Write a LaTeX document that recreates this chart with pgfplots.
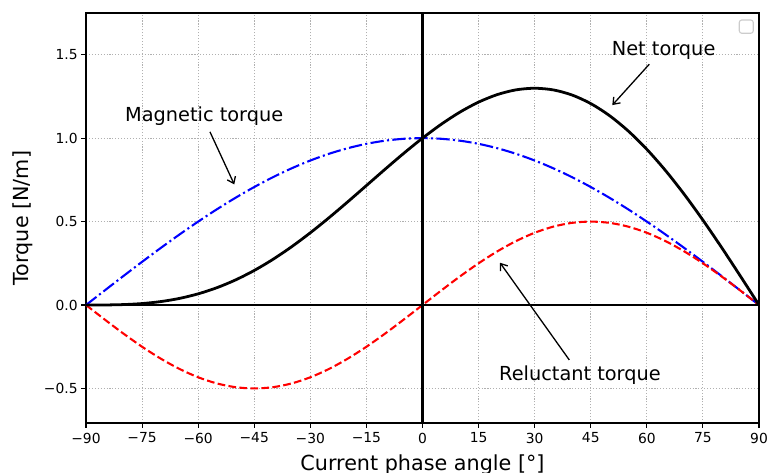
\documentclass[border=0pt]{standalone}
\usepackage{fontspec}
\setmainfont{DejaVu Sans}
\usepackage{pgfplots}
\pgfplotsset{compat=1.18}
\usepackage{pgfplotstable}
\usetikzlibrary{arrows.meta}

% Torque components versus current phase angle (degrees)
\pgfplotstableread{
angle magnetic reluctant net
-90 0.00000  0.00000 0.00000
-85 0.08716 -0.08682 0.00034
-80 0.17365 -0.17101 0.00264
-75 0.25882 -0.25000 0.00882
-70 0.34202 -0.32139 0.02063
-65 0.42262 -0.38302 0.03960
-60 0.50000 -0.43301 0.06699
-55 0.57358 -0.46985 0.10373
-50 0.64279 -0.49240 0.15039
-45 0.70711 -0.50000 0.20711
-40 0.76604 -0.49240 0.27364
-35 0.81915 -0.46985 0.34930
-30 0.86603 -0.43301 0.43302
-25 0.90631 -0.38302 0.52329
-20 0.93969 -0.32139 0.61830
-15 0.96593 -0.25000 0.71593
-10 0.98481 -0.17101 0.81380
-5  0.99619 -0.08682 0.90937
0   1.00000  0.00000 1.00000
5   0.99619  0.08682 1.08301
10  0.98481  0.17101 1.15582
15  0.96593  0.25000 1.21593
20  0.93969  0.32139 1.26108
25  0.90631  0.38302 1.28933
30  0.86603  0.43301 1.29904
35  0.81915  0.46985 1.28900
40  0.76604  0.49240 1.25844
45  0.70711  0.50000 1.20711
50  0.64279  0.49240 1.13519
55  0.57358  0.46985 1.04343
60  0.50000  0.43301 0.93301
65  0.42262  0.38302 0.80564
70  0.34202  0.32139 0.66341
75  0.25882  0.25000 0.50882
80  0.17365  0.17101 0.34466
85  0.08716  0.08682 0.17398
90  0.00000  0.00000 0.00000
}\torquedata

\definecolor{gridgray}{RGB}{176,176,176}
\definecolor{legendedge}{RGB}{204,204,204}

\begin{document}
\begin{tikzpicture}
\begin{axis}[
  at={(0,0)}, anchor=south west,
  scale only axis, width=673bp, height=410bp,
  xmin=-90, xmax=90, ymin=-0.707, ymax=1.75,
  xtick={-90,-75,...,90},
  xticklabels={−90,−75,−60,−45,−30,−15,0,15,30,45,60,75,90},
  ytick={-0.5,0,0.5,1,1.5},
  yticklabels={−0.5,0.0,0.5,1.0,1.5},
  tick pos=left, tick align=outside,
  major tick length=4.86bp,
  every tick/.style={black, line width=1.1bp},
  axis line style={black, line width=1.1bp},
  grid=major,
  grid style={gridgray, line width=1.1bp, dash pattern=on 1.1bp off 1.83bp},
  ticklabel style={font=\fontsize{13.9}{16}\selectfont},
  xticklabel style={yshift=-1.5bp},
  xlabel={Current phase angle [°]},
  ylabel={Torque [N/m]},
  label style={font=\fontsize{20.8}{24}\selectfont},
  xlabel style={at={(axis description cs:0.5,-0.1150)}, anchor=base},
  ylabel style={at={(axis description cs:-0.0854,0.5)}, anchor=base},
]
\addplot[blue, smooth, line width=2.08bp, dash pattern=on 13.3bp off 3.33bp on 2.08bp off 3.33bp]
  table[x=angle, y=magnetic] {\torquedata};
\addplot[red, smooth, line width=2.08bp, dash pattern=on 7.7bp off 3.33bp]
  table[x=angle, y=reluctant] {\torquedata};
\addplot[black, smooth, line width=2.78bp]
  table[x=angle, y=net] {\torquedata};
% reference lines through the origin
\addplot[black, line width=2.5bp] coordinates {(-90,0) (90,0)};
\addplot[black, line width=2.5bp] coordinates {(0,-0.707) (0,1.75)};

% annotations
\node[anchor=base west, inner sep=0pt, font=\fontsize{19.4}{22}\selectfont]
  at (axis cs:50.6,1.497) {Net torque};
\draw[line width=1.3bp, -{Straight Barb[length=6bp, width=9bp]}]
  (axis cs:60.66,1.443) -- (axis cs:50.77,1.198);
\node[anchor=base west, inner sep=0pt, font=\fontsize{19.4}{22}\selectfont]
  at (axis cs:-79.57,1.0976) {Magnetic torque};
\draw[line width=1.3bp, -{Straight Barb[length=6bp, width=9bp]}]
  (axis cs:-56.84,1.0377) -- (axis cs:-50.34,0.7228);
\node[anchor=base west, inner sep=0pt, font=\fontsize{19.4}{22}\selectfont]
  at (axis cs:20.46,-0.4533) {Reluctant torque};
\draw[line width=1.3bp, -{Straight Barb[length=6bp, width=9bp]}]
  (axis cs:39.26,-0.329) -- (axis cs:20.73,0.2533);

% empty legend frame
\draw[legendedge, fill=white, line width=1.1bp, rounded corners=2.5bp]
  (rel axis cs:0.9707,0.9505) rectangle (rel axis cs:0.9915,0.983);
\end{axis}
\pgfresetboundingbox
\path (-86bp,-50bp) rectangle (682bp,423bp);
\end{tikzpicture}
\end{document}
